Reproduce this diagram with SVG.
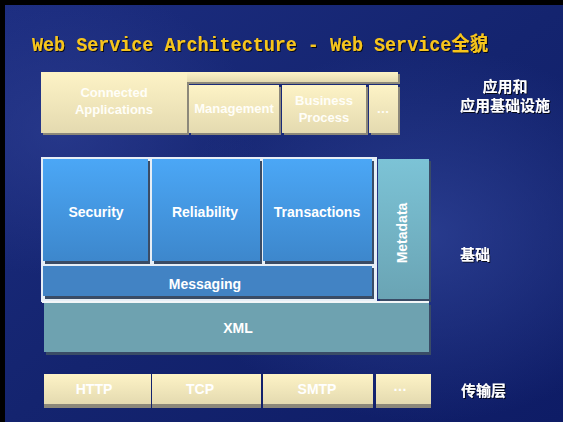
<svg xmlns="http://www.w3.org/2000/svg" width="563" height="422" viewBox="0 0 563 422">
<defs>
<linearGradient id="bg" x1="0" y1="0" x2="1" y2="1">
<stop offset="0" stop-color="#1c2d80"/>
<stop offset="0.5" stop-color="#14246f"/>
<stop offset="1" stop-color="#0e1c66"/>
</linearGradient>
<radialGradient id="glow1" cx="0.75" cy="0.55" r="0.45">
<stop offset="0" stop-color="#2e4296" stop-opacity="0.8"/>
<stop offset="1" stop-color="#2e4296" stop-opacity="0"/>
</radialGradient>
<radialGradient id="glow2" cx="0.1" cy="0.3" r="0.35">
<stop offset="0" stop-color="#2c3d90" stop-opacity="0.7"/>
<stop offset="1" stop-color="#2c3d90" stop-opacity="0"/>
</radialGradient>
<linearGradient id="cream" x1="0" y1="0" x2="0" y2="1">
<stop offset="0" stop-color="#fdf3c6"/>
<stop offset="1" stop-color="#e4dab0"/>
</linearGradient>
<linearGradient id="blue" x1="0" y1="0" x2="0" y2="1">
<stop offset="0" stop-color="#4ba7f6"/>
<stop offset="1" stop-color="#3d87cc"/>
</linearGradient>
<linearGradient id="meta" x1="0" y1="0" x2="0" y2="1">
<stop offset="0" stop-color="#7cc3d6"/>
<stop offset="1" stop-color="#6aa4b4"/>
</linearGradient>
<filter id="tsh" x="-10%" y="-30%" width="120%" height="160%">
<feDropShadow dx="1" dy="1" stdDeviation="0.3" flood-color="#000" flood-opacity="0.8"/>
</filter>
</defs>
<style>
.sh{fill:#8c887a}
.shb{fill:#3a4c66}
.cr{fill:url(#cream)}
.bl{fill:url(#blue)}
.lbl{font-family:"Liberation Sans",Arial,sans-serif;font-weight:bold;font-size:14px;fill:#ffffff;text-anchor:middle}
.lt{font-family:"Liberation Sans",Arial,sans-serif;font-weight:bold;font-size:13px;fill:#fffef8;text-anchor:middle}
.cn{font-family:"Noto Sans CJK SC",sans-serif;font-weight:bold;font-size:15px;fill:#ffffff;filter:url(#tsh)}
</style>
<rect width="563" height="422" fill="#000"/>
<rect x="5" y="5" width="558" height="417" fill="url(#bg)"/>
<rect x="5" y="5" width="558" height="417" fill="url(#glow1)"/>
<rect x="5" y="5" width="558" height="417" fill="url(#glow2)"/>

<g id="title" filter="url(#tsh)">
<text transform="translate(32,51) scale(0.92,1)" x="0" y="0" font-family="Liberation Mono,Courier New,Noto Sans CJK SC,monospace" font-weight="bold" font-size="20" fill="#f7c51c">Web Service Architecture - Web Service全貌</text>
</g>

<g id="app-layer">
<rect class="sh" x="43" y="74" width="146" height="61"/>
<rect class="sh" x="189" y="74" width="211" height="10"/>
<rect class="cr" x="41" y="72" width="146" height="61"/>
<rect class="cr" x="187" y="72" width="211" height="10"/>
<text class="lt" x="114" y="97">Connected</text>
<text class="lt" x="114" y="114">Applications</text>
</g>
<g id="management">
<rect class="sh" x="191" y="87" width="90" height="48"/>
<rect class="cr" x="189" y="85" width="90" height="48"/>
<text class="lt" x="234" y="113">Management</text>
</g>
<g id="business-process">
<rect class="sh" x="284" y="87" width="84" height="48"/>
<rect class="cr" x="282" y="85" width="84" height="48"/>
<text class="lt" x="324" y="105">Business</text>
<text class="lt" x="324" y="122">Process</text>
</g>
<g id="app-more">
<rect class="sh" x="371" y="87" width="29" height="48"/>
<rect class="cr" x="369" y="85" width="29" height="48"/>
<text class="lt" x="383" y="113">…</text>
</g>

<rect x="41" y="157" width="336" height="145" fill="#e6eef6"/>
<g id="security">
<rect class="shb" x="45" y="161" width="105" height="103"/>
<rect class="bl" x="43" y="159" width="105" height="102"/>
<text class="lbl" x="96" y="217">Security</text>
</g>
<g id="reliability">
<rect class="shb" x="154" y="161" width="108" height="103"/>
<rect class="bl" x="152" y="159" width="108" height="102"/>
<text class="lbl" x="205" y="217">Reliability</text>
</g>
<g id="transactions">
<rect class="shb" x="265" y="161" width="109" height="103"/>
<rect class="bl" x="263" y="159" width="109" height="102"/>
<text class="lbl" x="317" y="217">Transactions</text>
</g>
<g id="messaging">
<rect class="shb" x="45" y="268" width="329" height="31"/>
<rect x="43" y="266" width="329" height="30" fill="#4283c4"/>
<text class="lbl" x="205" y="289">Messaging</text>
</g>
<g id="metadata">
<rect class="shb" x="380" y="161" width="51" height="141"/>
<rect x="378" y="159" width="51" height="140" fill="url(#meta)"/>
<text class="lbl" transform="translate(407,233) rotate(-90)" x="0" y="0">Metadata</text>
</g>
<g id="xml">
<rect x="42" y="301" width="387" height="2" fill="#f2f6f8"/>
<rect class="shb" x="46" y="305" width="385" height="50"/>
<rect x="44" y="303" width="385" height="49" fill="#6ea2b0"/>
<text class="lbl" x="238" y="333">XML</text>
</g>

<g id="http">
<rect class="sh" x="44" y="377" width="107" height="31"/>
<rect class="cr" x="44" y="374" width="107" height="30"/>
<text class="lbl" x="94" y="394">HTTP</text>
</g>
<g id="tcp">
<rect class="sh" x="152" y="377" width="109" height="31"/>
<rect class="cr" x="152" y="374" width="109" height="30"/>
<text class="lbl" x="200" y="394">TCP</text>
</g>
<g id="smtp">
<rect class="sh" x="263" y="377" width="110" height="31"/>
<rect class="cr" x="263" y="374" width="110" height="30"/>
<text class="lbl" x="317" y="394">SMTP</text>
</g>
<g id="transport-more">
<rect class="sh" x="376" y="377" width="55" height="31"/>
<rect class="cr" x="376" y="374" width="55" height="30"/>
<text class="lbl" x="400" y="391">…</text>
</g>

<g id="labels">
<text class="cn" x="505" y="92" text-anchor="middle">应用和</text>
<text class="cn" x="505" y="111" text-anchor="middle">应用基础设施</text>
<text class="cn" x="460" y="260">基础</text>
<text class="cn" x="461" y="396">传输层</text>
</g>
</svg>
